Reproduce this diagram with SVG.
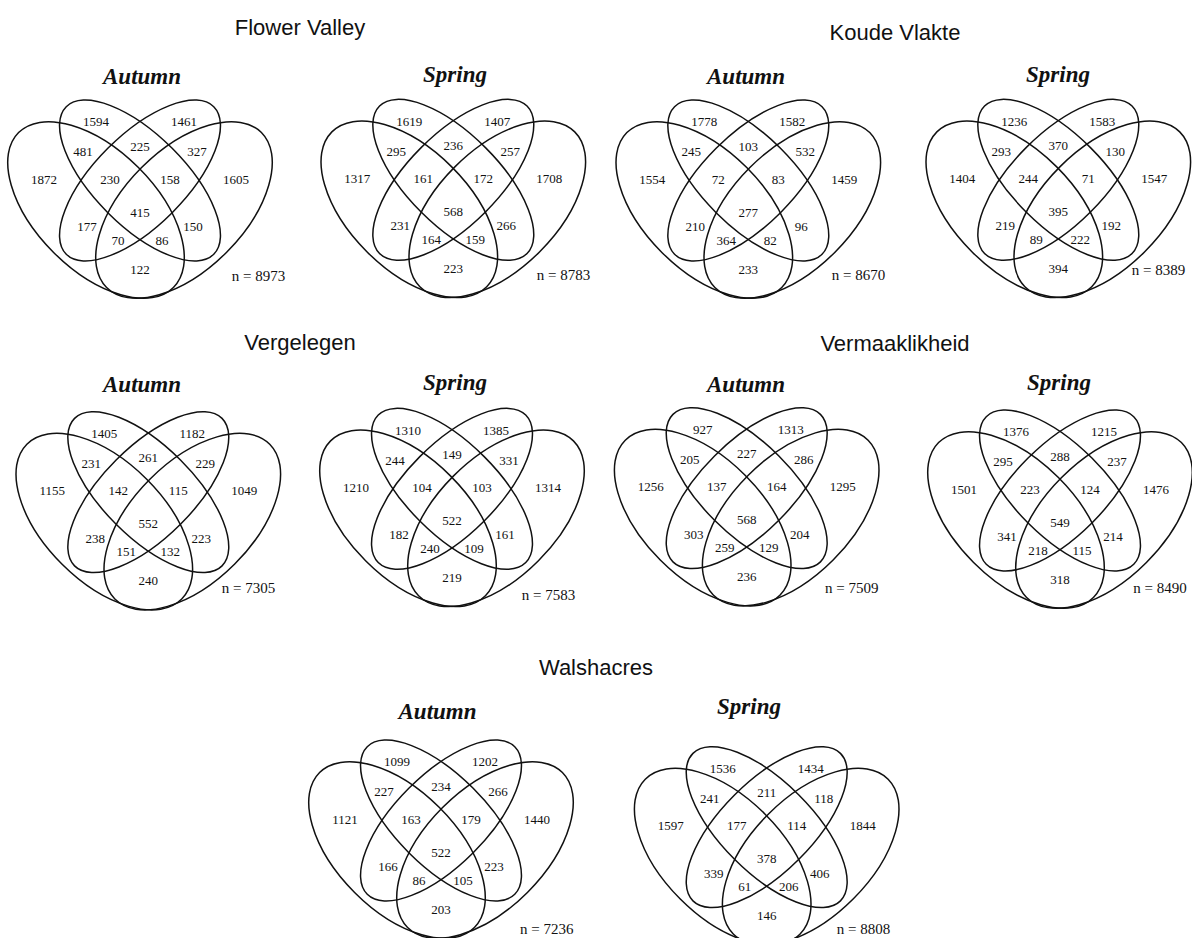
<svg xmlns="http://www.w3.org/2000/svg" width="1192" height="938" viewBox="0 0 1192 938">
<style>
.e{fill:none;stroke:#111;stroke-width:1.5}
.v{font-family:"Liberation Serif","Times New Roman",serif;font-size:13px;text-anchor:middle;fill:#111}
.n{font-family:"Liberation Serif","Times New Roman",serif;font-size:15px;text-anchor:start;fill:#111}
.s{font-family:"Liberation Serif","Times New Roman",serif;font-size:23px;font-weight:bold;font-style:italic;text-anchor:middle;fill:#111}
.t{font-family:"Liberation Sans",Arial,sans-serif;font-size:22px;text-anchor:middle;fill:#111}
</style>
<defs>
<g id="shape">
<ellipse class="e" cx="-44" cy="10" rx="109.5" ry="60" transform="rotate(45 -44 10)"/>
<ellipse class="e" cx="0" cy="-19.5" rx="104.3" ry="45.5" transform="rotate(45 0 -19.5)"/>
<ellipse class="e" cx="0" cy="-19.5" rx="104.3" ry="45.5" transform="rotate(-45 0 -19.5)"/>
<ellipse class="e" cx="44" cy="10" rx="109.5" ry="60" transform="rotate(-45 44 10)"/>
</g>
</defs>
<rect width="1192" height="938" fill="#fff"/>
<g id="site-titles">
<text class="t" x="300" y="35">Flower Valley</text>
<text class="t" x="895" y="40">Koude Vlakte</text>
<text class="t" x="300" y="350">Vergelegen</text>
<text class="t" x="895" y="351">Vermaaklikheid</text>
<text class="t" x="596" y="675">Walshacres</text>
</g>

<g id="fv-autumn" transform="translate(140,200)">
<text class="s" x="2" y="-116">Autumn</text>
<use href="#shape"/>
<text class="v" x="-44" y="-73.8">1594</text><text class="v" x="44" y="-73.8">1461</text>
<text class="v" x="-57" y="-43.8">481</text><text class="v" x="0" y="-49.5">225</text><text class="v" x="57" y="-43.8">327</text>
<text class="v" x="-96" y="-16.5">1872</text><text class="v" x="-30" y="-16.5">230</text><text class="v" x="30" y="-16.5">158</text><text class="v" x="96" y="-16.5">1605</text>
<text class="v" x="0" y="16.8">415</text>
<text class="v" x="-53" y="31.2">177</text><text class="v" x="53" y="31.2">150</text>
<text class="v" x="-22" y="44.5">70</text><text class="v" x="22" y="44.5">86</text>
<text class="v" x="0" y="73.8">122</text>
<text class="n" x="91.7" y="81">n = 8973</text>
</g>

<g id="fv-spring" transform="translate(453.3,199.3)">
<text class="s" x="1.7" y="-117.3">Spring</text>
<use href="#shape"/>
<text class="v" x="-44" y="-73.8">1619</text><text class="v" x="44" y="-73.8">1407</text>
<text class="v" x="-57" y="-43.8">295</text><text class="v" x="0" y="-49.5">236</text><text class="v" x="57" y="-43.8">257</text>
<text class="v" x="-96" y="-16.5">1317</text><text class="v" x="-30" y="-16.5">161</text><text class="v" x="30" y="-16.5">172</text><text class="v" x="96" y="-16.5">1708</text>
<text class="v" x="0" y="16.8">568</text>
<text class="v" x="-53" y="31.2">231</text><text class="v" x="53" y="31.2">266</text>
<text class="v" x="-22" y="44.5">164</text><text class="v" x="22" y="44.5">159</text>
<text class="v" x="0" y="73.8">223</text>
<text class="n" x="83.4" y="80.7">n = 8783</text>
</g>

<g id="kv-autumn" transform="translate(748.3,200)">
<text class="s" x="-2.3" y="-116">Autumn</text>
<use href="#shape"/>
<text class="v" x="-44" y="-73.8">1778</text><text class="v" x="44" y="-73.8">1582</text>
<text class="v" x="-57" y="-43.8">245</text><text class="v" x="0" y="-49.5">103</text><text class="v" x="57" y="-43.8">532</text>
<text class="v" x="-96" y="-16.5">1554</text><text class="v" x="-30" y="-16.5">72</text><text class="v" x="30" y="-16.5">83</text><text class="v" x="96" y="-16.5">1459</text>
<text class="v" x="0" y="16.8">277</text>
<text class="v" x="-53" y="31.2">210</text><text class="v" x="53" y="31.2">96</text>
<text class="v" x="-22" y="44.5">364</text><text class="v" x="22" y="44.5">82</text>
<text class="v" x="0" y="73.8">233</text>
<text class="n" x="83.4" y="80">n = 8670</text>
</g>

<g id="kv-spring" transform="translate(1058.3,199.3)">
<text class="s" x="-0.3" y="-117.3">Spring</text>
<use href="#shape"/>
<text class="v" x="-44" y="-73.8">1236</text><text class="v" x="44" y="-73.8">1583</text>
<text class="v" x="-57" y="-43.8">293</text><text class="v" x="0" y="-49.5">370</text><text class="v" x="57" y="-43.8">130</text>
<text class="v" x="-96" y="-16.5">1404</text><text class="v" x="-30" y="-16.5">244</text><text class="v" x="30" y="-16.5">71</text><text class="v" x="96" y="-16.5">1547</text>
<text class="v" x="0" y="16.8">395</text>
<text class="v" x="-53" y="31.2">219</text><text class="v" x="53" y="31.2">192</text>
<text class="v" x="-22" y="44.5">89</text><text class="v" x="22" y="44.5">222</text>
<text class="v" x="0" y="73.8">394</text>
<text class="n" x="73.4" y="75.7">n = 8389</text>
</g>

<g id="vg-autumn" transform="translate(148.3,511.6)">
<text class="s" x="-6.3" y="-119.6">Autumn</text>
<use href="#shape"/>
<text class="v" x="-44" y="-73.8">1405</text><text class="v" x="44" y="-73.8">1182</text>
<text class="v" x="-57" y="-43.8">231</text><text class="v" x="0" y="-49.5">261</text><text class="v" x="57" y="-43.8">229</text>
<text class="v" x="-96" y="-16.5">1155</text><text class="v" x="-30" y="-16.5">142</text><text class="v" x="30" y="-16.5">115</text><text class="v" x="96" y="-16.5">1049</text>
<text class="v" x="0" y="16.8">552</text>
<text class="v" x="-53" y="31.2">238</text><text class="v" x="53" y="31.2">223</text>
<text class="v" x="-22" y="44.5">151</text><text class="v" x="22" y="44.5">132</text>
<text class="v" x="0" y="73.8">240</text>
<text class="n" x="73.4" y="81.7">n = 7305</text>
</g>

<g id="vg-spring" transform="translate(452,508.3)">
<text class="s" x="3" y="-118.3">Spring</text>
<use href="#shape"/>
<text class="v" x="-44" y="-73.8">1310</text><text class="v" x="44" y="-73.8">1385</text>
<text class="v" x="-57" y="-43.8">244</text><text class="v" x="0" y="-49.5">149</text><text class="v" x="57" y="-43.8">331</text>
<text class="v" x="-96" y="-16.5">1210</text><text class="v" x="-30" y="-16.5">104</text><text class="v" x="30" y="-16.5">103</text><text class="v" x="96" y="-16.5">1314</text>
<text class="v" x="0" y="16.8">522</text>
<text class="v" x="-53" y="31.2">182</text><text class="v" x="53" y="31.2">161</text>
<text class="v" x="-22" y="44.5">240</text><text class="v" x="22" y="44.5">109</text>
<text class="v" x="0" y="73.8">219</text>
<text class="n" x="69.7" y="91.7">n = 7583</text>
</g>

<g id="vm-autumn" transform="translate(746.7,507.6)">
<text class="s" x="-0.7" y="-115.6">Autumn</text>
<use href="#shape"/>
<text class="v" x="-44" y="-73.8">927</text><text class="v" x="44" y="-73.8">1313</text>
<text class="v" x="-57" y="-43.8">205</text><text class="v" x="0" y="-49.5">227</text><text class="v" x="57" y="-43.8">286</text>
<text class="v" x="-96" y="-16.5">1256</text><text class="v" x="-30" y="-16.5">137</text><text class="v" x="30" y="-16.5">164</text><text class="v" x="96" y="-16.5">1295</text>
<text class="v" x="0" y="16.8">568</text>
<text class="v" x="-53" y="31.2">303</text><text class="v" x="53" y="31.2">204</text>
<text class="v" x="-22" y="44.5">259</text><text class="v" x="22" y="44.5">129</text>
<text class="v" x="0" y="73.8">236</text>
<text class="n" x="78.3" y="85.7">n = 7509</text>
</g>

<g id="vm-spring" transform="translate(1060,510)">
<text class="s" x="-1" y="-120">Spring</text>
<use href="#shape"/>
<text class="v" x="-44" y="-73.8">1376</text><text class="v" x="44" y="-73.8">1215</text>
<text class="v" x="-57" y="-43.8">295</text><text class="v" x="0" y="-49.5">288</text><text class="v" x="57" y="-43.8">237</text>
<text class="v" x="-96" y="-16.5">1501</text><text class="v" x="-30" y="-16.5">223</text><text class="v" x="30" y="-16.5">124</text><text class="v" x="96" y="-16.5">1476</text>
<text class="v" x="0" y="16.8">549</text>
<text class="v" x="-53" y="31.2">341</text><text class="v" x="53" y="31.2">214</text>
<text class="v" x="-22" y="44.5">218</text><text class="v" x="22" y="44.5">115</text>
<text class="v" x="0" y="73.8">318</text>
<text class="n" x="73.3" y="83.3">n = 8490</text>
</g>

<g id="wa-autumn" transform="translate(441,840)">
<text class="s" x="-3.5" y="-121">Autumn</text>
<use href="#shape"/>
<text class="v" x="-44" y="-73.8">1099</text><text class="v" x="44" y="-73.8">1202</text>
<text class="v" x="-57" y="-43.8">227</text><text class="v" x="0" y="-49.5">234</text><text class="v" x="57" y="-43.8">266</text>
<text class="v" x="-96" y="-16.5">1121</text><text class="v" x="-30" y="-16.5">163</text><text class="v" x="30" y="-16.5">179</text><text class="v" x="96" y="-16.5">1440</text>
<text class="v" x="0" y="16.8">522</text>
<text class="v" x="-53" y="31.2">166</text><text class="v" x="53" y="31.2">223</text>
<text class="v" x="-22" y="44.5">86</text><text class="v" x="22" y="44.5">105</text>
<text class="v" x="0" y="73.8">203</text>
<text class="n" x="79" y="94">n = 7236</text>
</g>

<g id="wa-spring" transform="translate(766.7,846.6)">
<text class="s" x="-17.7" y="-132.6">Spring</text>
<use href="#shape"/>
<text class="v" x="-44" y="-73.8">1536</text><text class="v" x="44" y="-73.8">1434</text>
<text class="v" x="-57" y="-43.8">241</text><text class="v" x="0" y="-49.5">211</text><text class="v" x="57" y="-43.8">118</text>
<text class="v" x="-96" y="-16.5">1597</text><text class="v" x="-30" y="-16.5">177</text><text class="v" x="30" y="-16.5">114</text><text class="v" x="96" y="-16.5">1844</text>
<text class="v" x="0" y="16.8">378</text>
<text class="v" x="-53" y="31.2">339</text><text class="v" x="53" y="31.2">406</text>
<text class="v" x="-22" y="44.5">61</text><text class="v" x="22" y="44.5">206</text>
<text class="v" x="0" y="73.8">146</text>
<text class="n" x="70" y="87.4">n = 8808</text>
</g>
</svg>
